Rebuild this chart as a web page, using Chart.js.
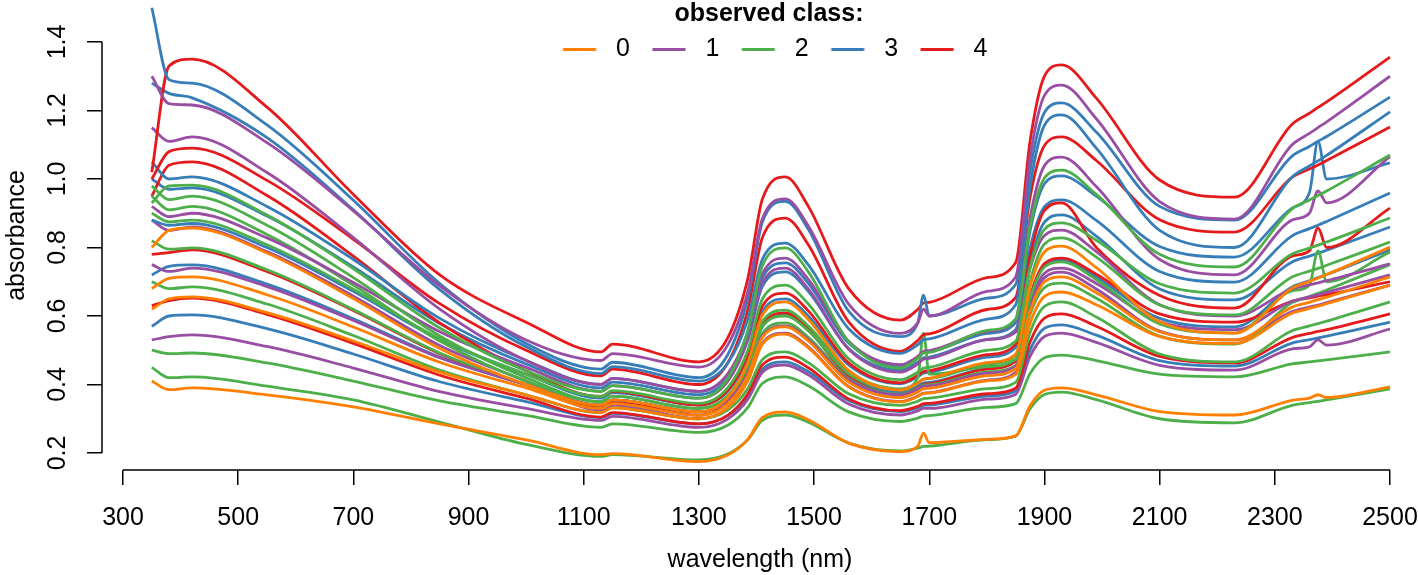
<!DOCTYPE html>
<html><head><meta charset="utf-8">
<script src="https://cdn.jsdelivr.net/npm/chart.js@4.4.0/dist/chart.umd.min.js"></script>
<style>html,body{margin:0;padding:0;background:#fff;}canvas{display:block;}</style>
</head><body>
<canvas id="c" width="1418" height="575"></canvas>
<script>
// ---- data ----
const wavelengths = [350, 380, 420, 550, 700, 850, 1000, 1130, 1150, 1300, 1350, 1385, 1410, 1450, 1490, 1560, 1650, 1680, 1690, 1700, 1800, 1850, 1875, 1900, 1930, 1990, 2100, 2230, 2330, 2360, 2375, 2390, 2500];
const xTicks = [300, 500, 700, 900, 1100, 1300, 1500, 1700, 1900, 2100, 2300, 2500];
const yTicks = [0.2, 0.4, 0.6, 0.8, 1.0, 1.2, 1.4];
const classNames = ['0', '1', '2', '3', '4'];

// class 0
const c0_a = [0.80, 0.85, 0.857, 0.784, 0.651, 0.505, 0.40, 0.34, 0.355, 0.32, 0.362, 0.464, 0.602, 0.641, 0.59, 0.441, 0.384, 0.404, 0.416, 0.418, 0.464, 0.488, 0.685, 0.787, 0.804, 0.741, 0.583, 0.55, 0.681, 0.701, 0.711, 0.721, 0.801];
const c0_b = [0.68, 0.71, 0.714, 0.662, 0.568, 0.465, 0.39, 0.33, 0.344, 0.31, 0.344, 0.426, 0.537, 0.568, 0.527, 0.407, 0.362, 0.378, 0.388, 0.389, 0.426, 0.446, 0.613, 0.70, 0.714, 0.668, 0.554, 0.53, 0.626, 0.64, 0.648, 0.655, 0.714];
const c0_c = [0.62, 0.65, 0.656, 0.61, 0.527, 0.436, 0.37, 0.318, 0.332, 0.30, 0.332, 0.411, 0.517, 0.547, 0.507, 0.393, 0.349, 0.365, 0.374, 0.375, 0.411, 0.429, 0.579, 0.657, 0.67, 0.633, 0.54, 0.52, 0.608, 0.622, 0.629, 0.636, 0.69];
const c0_d = [0.41, 0.385, 0.39, 0.37, 0.335, 0.285, 0.238, 0.195, 0.198, 0.175, 0.194, 0.24, 0.303, 0.32, 0.297, 0.229, 0.204, 0.22, 0.258, 0.23, 0.24, 0.25, 0.338, 0.383, 0.39, 0.37, 0.321, 0.311, 0.354, 0.36, 0.37, 0.362, 0.393];
// class 1
const c1_a = [1.30, 1.22, 1.216, 1.106, 0.907, 0.688, 0.53, 0.47, 0.49, 0.451, 0.515, 0.672, 0.883, 0.942, 0.863, 0.635, 0.549, 0.58, 0.62, 0.60, 0.672, 0.714, 1.063, 1.244, 1.274, 1.176, 0.934, 0.883, 1.10, 1.133, 1.15, 1.167, 1.30];
const c1_b = [1.15, 1.11, 1.123, 1.019, 0.829, 0.62, 0.47, 0.40, 0.418, 0.38, 0.431, 0.555, 0.722, 0.769, 0.707, 0.526, 0.458, 0.482, 0.497, 0.499, 0.555, 0.591, 0.886, 1.039, 1.064, 0.978, 0.765, 0.72, 0.88, 0.90, 0.965, 0.93, 1.065];
const c1_c = [0.92, 0.89, 0.90, 0.828, 0.698, 0.554, 0.45, 0.38, 0.397, 0.36, 0.409, 0.531, 0.694, 0.74, 0.679, 0.503, 0.436, 0.46, 0.474, 0.476, 0.531, 0.553, 0.739, 0.835, 0.851, 0.788, 0.633, 0.60, 0.679, 0.691, 0.697, 0.703, 0.752];
const c1_d = [0.75, 0.73, 0.74, 0.686, 0.587, 0.478, 0.40, 0.34, 0.355, 0.32, 0.353, 0.433, 0.541, 0.571, 0.531, 0.414, 0.37, 0.386, 0.395, 0.396, 0.433, 0.454, 0.633, 0.725, 0.74, 0.695, 0.583, 0.56, 0.643, 0.656, 0.662, 0.669, 0.72];
const c1_e = [0.88, 0.85, 0.86, 0.788, 0.658, 0.514, 0.41, 0.325, 0.34, 0.30, 0.333, 0.413, 0.52, 0.55, 0.51, 0.394, 0.35, 0.366, 0.375, 0.376, 0.413, 0.435, 0.618, 0.712, 0.728, 0.679, 0.556, 0.53, 0.613, 0.626, 0.632, 0.639, 0.69];
const c1_f = [0.53, 0.54, 0.545, 0.511, 0.448, 0.379, 0.33, 0.295, 0.307, 0.275, 0.299, 0.357, 0.435, 0.457, 0.428, 0.343, 0.311, 0.323, 0.33, 0.33, 0.357, 0.371, 0.482, 0.54, 0.55, 0.523, 0.456, 0.442, 0.504, 0.51, 0.53, 0.515, 0.562];
// class 2
const c2_a = [0.93, 0.98, 0.982, 0.895, 0.738, 0.565, 0.44, 0.38, 0.397, 0.36, 0.417, 0.558, 0.746, 0.799, 0.729, 0.525, 0.448, 0.476, 0.492, 0.494, 0.558, 0.591, 0.862, 1.003, 1.026, 0.955, 0.78, 0.743, 0.913, 0.939, 0.952, 0.965, 1.07];
const c2_b = [0.90, 0.875, 0.88, 0.808, 0.678, 0.534, 0.43, 0.365, 0.382, 0.345, 0.39, 0.50, 0.649, 0.69, 0.635, 0.475, 0.414, 0.436, 0.448, 0.45, 0.50, 0.526, 0.742, 0.853, 0.872, 0.821, 0.694, 0.667, 0.781, 0.798, 0.807, 0.816, 0.886];
const c2_c = [0.98, 0.94, 0.95, 0.865, 0.712, 0.542, 0.42, 0.35, 0.366, 0.33, 0.367, 0.459, 0.583, 0.617, 0.571, 0.438, 0.387, 0.405, 0.416, 0.417, 0.459, 0.485, 0.699, 0.81, 0.828, 0.772, 0.632, 0.603, 0.714, 0.731, 0.739, 0.748, 0.816];
const c2_d = [0.95, 0.91, 0.92, 0.838, 0.69, 0.527, 0.41, 0.35, 0.366, 0.33, 0.365, 0.452, 0.568, 0.60, 0.557, 0.431, 0.384, 0.42, 0.55, 0.43, 0.452, 0.473, 0.651, 0.743, 0.758, 0.706, 0.577, 0.55, 0.673, 0.69, 0.79, 0.70, 0.787];
const c2_e = [0.82, 0.795, 0.799, 0.735, 0.619, 0.492, 0.40, 0.34, 0.355, 0.32, 0.354, 0.437, 0.549, 0.58, 0.538, 0.417, 0.372, 0.388, 0.398, 0.399, 0.437, 0.455, 0.605, 0.683, 0.696, 0.652, 0.541, 0.518, 0.639, 0.657, 0.666, 0.676, 0.75];
const c2_f = [0.70, 0.68, 0.685, 0.635, 0.543, 0.442, 0.37, 0.318, 0.332, 0.30, 0.325, 0.388, 0.472, 0.495, 0.464, 0.373, 0.339, 0.351, 0.359, 0.36, 0.388, 0.406, 0.552, 0.628, 0.641, 0.597, 0.489, 0.466, 0.557, 0.571, 0.578, 0.585, 0.641];
const c2_g = [0.50, 0.49, 0.492, 0.463, 0.41, 0.352, 0.31, 0.275, 0.285, 0.26, 0.281, 0.333, 0.403, 0.422, 0.396, 0.32, 0.292, 0.302, 0.308, 0.309, 0.333, 0.344, 0.432, 0.478, 0.486, 0.47, 0.43, 0.422, 0.46, 0.466, 0.469, 0.472, 0.495];
const c2_h = [0.45, 0.42, 0.422, 0.395, 0.355, 0.29, 0.225, 0.19, 0.195, 0.18, 0.197, 0.239, 0.295, 0.311, 0.29, 0.229, 0.206, 0.214, 0.219, 0.22, 0.239, 0.249, 0.329, 0.371, 0.378, 0.356, 0.30, 0.288, 0.339, 0.347, 0.351, 0.355, 0.387];
// class 3
const c3_a = [1.50, 1.29, 1.28, 1.158, 0.938, 0.695, 0.52, 0.445, 0.465, 0.42, 0.487, 0.652, 0.873, 0.935, 0.853, 0.614, 0.54, 0.58, 0.661, 0.60, 0.652, 0.692, 1.023, 1.194, 1.222, 1.137, 0.92, 0.88, 1.067, 1.095, 1.11, 1.124, 1.239];
const c3_b = [1.28, 1.25, 1.237, 1.121, 0.91, 0.677, 0.51, 0.432, 0.452, 0.41, 0.462, 0.591, 0.765, 0.813, 0.749, 0.563, 0.491, 0.516, 0.531, 0.533, 0.591, 0.633, 0.978, 1.157, 1.187, 1.09, 0.85, 0.80, 1.006, 1.038, 1.053, 1.069, 1.196];
const c3_c = [1.05, 1.0, 1.006, 0.92, 0.765, 0.593, 0.47, 0.40, 0.418, 0.38, 0.429, 0.549, 0.71, 0.755, 0.695, 0.521, 0.455, 0.479, 0.493, 0.495, 0.549, 0.581, 0.848, 0.986, 1.009, 0.95, 0.803, 0.772, 0.915, 0.96, 1.11, 1.0, 1.047];
const c3_d = [1.0, 0.97, 0.974, 0.892, 0.743, 0.578, 0.46, 0.39, 0.407, 0.37, 0.417, 0.532, 0.686, 0.729, 0.672, 0.505, 0.442, 0.465, 0.478, 0.48, 0.532, 0.56, 0.797, 0.919, 0.939, 0.879, 0.73, 0.699, 0.834, 0.855, 0.865, 0.876, 0.959];
const c3_e = [0.88, 0.865, 0.87, 0.80, 0.672, 0.531, 0.43, 0.36, 0.376, 0.34, 0.38, 0.48, 0.613, 0.65, 0.60, 0.457, 0.402, 0.422, 0.433, 0.435, 0.48, 0.509, 0.75, 0.874, 0.895, 0.833, 0.679, 0.647, 0.758, 0.775, 0.783, 0.792, 0.86];
const c3_f = [0.72, 0.745, 0.749, 0.693, 0.592, 0.48, 0.40, 0.34, 0.355, 0.32, 0.357, 0.447, 0.569, 0.603, 0.558, 0.427, 0.377, 0.395, 0.405, 0.406, 0.447, 0.469, 0.652, 0.747, 0.763, 0.714, 0.593, 0.568, 0.685, 0.703, 0.712, 0.721, 0.793];
const c3_g = [0.57, 0.60, 0.603, 0.563, 0.489, 0.408, 0.35, 0.303, 0.316, 0.285, 0.309, 0.366, 0.444, 0.466, 0.437, 0.353, 0.321, 0.332, 0.339, 0.34, 0.366, 0.381, 0.501, 0.564, 0.574, 0.544, 0.47, 0.454, 0.521, 0.531, 0.536, 0.541, 0.582];
// class 4
const c4_a = [1.02, 1.33, 1.35, 1.21, 0.955, 0.72, 0.582, 0.495, 0.518, 0.466, 0.536, 0.71, 0.94, 1.006, 0.92, 0.68, 0.588, 0.619, 0.638, 0.64, 0.712, 0.756, 1.11, 1.30, 1.333, 1.236, 0.997, 0.947, 1.16, 1.192, 1.209, 1.225, 1.356];
const c4_b = [1.0, 1.08, 1.09, 0.996, 0.824, 0.636, 0.50, 0.425, 0.445, 0.40, 0.463, 0.619, 0.828, 0.886, 0.808, 0.583, 0.497, 0.528, 0.546, 0.548, 0.619, 0.654, 0.947, 1.098, 1.123, 1.054, 0.881, 0.845, 1.005, 1.029, 1.041, 1.054, 1.152];
const c4_c = [0.95, 1.04, 1.05, 0.952, 0.775, 0.58, 0.44, 0.365, 0.38, 0.34, 0.383, 0.487, 0.628, 0.667, 0.615, 0.463, 0.405, 0.426, 0.438, 0.44, 0.487, 0.518, 0.775, 0.908, 0.930, 0.80, 0.66, 0.623, 0.775, 0.79, 0.857, 0.80, 0.915];
const c4_d = [0.78, 0.785, 0.793, 0.73, 0.616, 0.49, 0.40, 0.335, 0.35, 0.31, 0.349, 0.445, 0.573, 0.609, 0.561, 0.423, 0.37, 0.389, 0.40, 0.402, 0.445, 0.468, 0.656, 0.753, 0.769, 0.722, 0.606, 0.582, 0.643, 0.653, 0.658, 0.662, 0.70];
const c4_e = [0.63, 0.645, 0.652, 0.605, 0.52, 0.427, 0.36, 0.305, 0.318, 0.285, 0.31, 0.373, 0.457, 0.48, 0.449, 0.358, 0.324, 0.336, 0.344, 0.345, 0.373, 0.389, 0.524, 0.594, 0.606, 0.57, 0.482, 0.463, 0.537, 0.549, 0.555, 0.56, 0.606];

// sample order (class, spectrum)
const sampleClass = [0, 1, 2, 3, 4, 2, 3, 1, 0, 4, 2, 3, 1, 2, 0, 4, 3, 1, 2, 3, 4, 0, 2, 1, 3, 2, 4, 1, 3, 2];
const sampleSpectra = [c0_a, c1_a, c2_a, c3_a, c4_a, c2_b, c3_b, c1_b, c0_b, c4_b, c2_c, c3_c, c1_c, c2_d, c0_c, c4_c, c3_d, c1_d, c2_e, c3_e, c4_d, c0_d, c2_f, c1_e, c3_f, c2_g, c4_e, c1_f, c3_g, c2_h];

// ---- styles ----
const classColors = ['#FF7F00', '#984EA3', '#4DAF4A', '#377EB8', '#E41A1C'];
const FONT = "'Liberation Sans', Arial, Helvetica, sans-serif";
Chart.defaults.font.family = FONT;
Chart.defaults.color = '#000';

function swatch(color) {
  const cv = document.createElement('canvas');
  cv.width = 53; cv.height = 3;
  const g = cv.getContext('2d');
  g.fillStyle = color;
  g.fillRect(12.5, 0, 33, 3);
  return cv;
}

const datasets = sampleSpectra.map((vals, i) => ({
  label: 'class ' + classNames[sampleClass[i]],
  data: vals.map((v, j) => ({x: wavelengths[j], y: v})),
  borderColor: classColors[sampleClass[i]],
  backgroundColor: classColors[sampleClass[i]],
  borderWidth: 2.8,
  pointRadius: 0,
  fill: false,
  cubicInterpolationMode: 'monotone',
  clip: false
}));

function noPad(s) { s.paddingTop = 0; s.paddingBottom = 0; s.paddingLeft = 0; s.paddingRight = 0; }

const axisLines = {
  id: 'axisLines',
  afterLayout(chart) {
    // legend takes no layout room (maxHeight 1) but is allowed to paint its full content
    const lg = chart.legend;
    if (lg) { lg.height = 75; lg.bottom = lg.top + 75; lg.left += 9; lg.right += 9; }
  },
  afterDraw(chart) {
    const {ctx, chartArea, scales: {x, y}} = chart;
    ctx.save();
    ctx.strokeStyle = '#000';
    ctx.lineWidth = 1.5;
    ctx.beginPath();
    ctx.moveTo(x.getPixelForValue(xTicks[0]), chartArea.bottom);
    ctx.lineTo(x.getPixelForValue(xTicks[xTicks.length - 1]), chartArea.bottom);
    ctx.moveTo(chartArea.left, y.getPixelForValue(yTicks[0]));
    ctx.lineTo(chartArea.left, y.getPixelForValue(yTicks[yTicks.length - 1]));
    ctx.stroke();
    ctx.restore();
  }
};

new Chart(document.getElementById('c'), {
  type: 'line',
  data: {datasets},
  plugins: [axisLines],
  options: {
    responsive: false,
    animation: false,
    devicePixelRatio: 1,
    layout: {autoPadding: false, padding: 0},
    plugins: {
      tooltip: {enabled: false},
      legend: {
        display: true,
        position: 'top',
        align: 'center',
        fullSize: false,
        maxHeight: 1,
        title: {display: true, text: 'observed class:', color: '#000',
                font: {family: FONT, size: 25, weight: 'bold', lineHeight: 1},
                padding: {top: 2, bottom: 0}},
        labels: {
          usePointStyle: true,
          pointStyleWidth: 53,
          padding: 10,
          color: '#000',
          font: {family: FONT, size: 25},
          generateLabels: () => classNames.map((n, i) => ({
            text: n, pointStyle: swatch(classColors[i]), fillStyle: classColors[i],
            strokeStyle: classColors[i], lineWidth: 0, hidden: false, fontColor: '#000'
          }))
        }
      }
    },
    scales: {
      x: {
        type: 'linear',
        min: 263.54,
        max: 2548.6,
        afterBuildTicks: s => { s.ticks = xTicks.map(v => ({value: v})); },
        afterFit: s => { s.height = 105; noPad(s); },
        border: {display: false},
        grid: {display: true, drawOnChartArea: false, drawTicks: true, tickLength: 15, color: '#000', lineWidth: 1.5},
        ticks: {autoSkip: false, maxRotation: 0, minRotation: 0, padding: 18, color: '#000',
                font: {family: FONT, size: 25}, callback: v => String(v)},
        title: {display: true, text: 'wavelength (nm)', color: '#000',
                font: {family: FONT, size: 25}, padding: {top: 0, bottom: 0}}
      },
      y: {
        type: 'linear',
        min: 0.15036,
        max: 1.5197,
        afterBuildTicks: s => { s.ticks = yTicks.map(v => ({value: v})); },
        afterFit: s => { s.width = 102; noPad(s); },
        border: {display: false},
        grid: {display: true, drawOnChartArea: false, drawTicks: true, tickLength: 15, color: '#000', lineWidth: 1.5},
        ticks: {autoSkip: false, minRotation: 90, maxRotation: 90, crossAlign: 'center', padding: 12,
                color: '#000', font: {family: FONT, size: 25}, callback: v => v.toFixed(1)},
        title: {display: true, text: 'absorbance', color: '#000',
                font: {family: FONT, size: 25}, padding: {top: 2, bottom: 0}}
      }
    }
  }
});
</script>
</body></html>
